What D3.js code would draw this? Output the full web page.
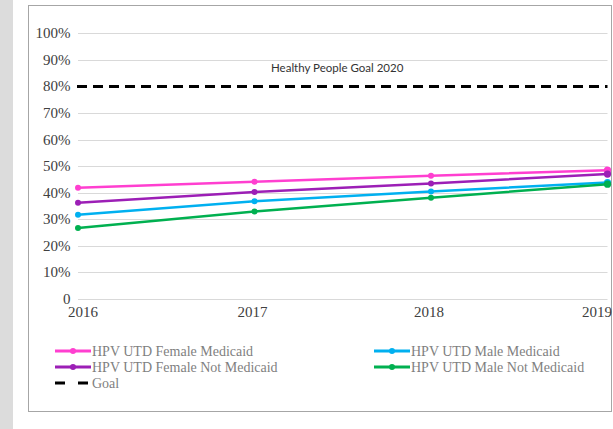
<!doctype html>
<html>
<head>
<meta charset="utf-8">
<title>HPV UTD by Medicaid status</title>
<script src="https://d3js.org/d3.v7.min.js"></script>
<style>
  body { margin: 0; background: #fff; }
  svg { display: block; }
</style>
</head>
<body>
<div id="chart"></div>
<script>
// data
var years = [2016, 2017, 2018, 2019];
var yTicks = [0, 10, 20, 30, 40, 50, 60, 70, 80, 90, 100];
var femaleMedicaid = [41.9, 44.1, 46.4, 48.5];
var femaleNotMedicaid = [36.2, 40.3, 43.5, 47.0];
var maleMedicaid = [31.7, 36.8, 40.5, 43.8];
var maleNotMedicaid = [26.7, 32.9, 38.1, 43.2];
var goal = 80;
var goalLabel = "Healthy People Goal 2020";

var series = [
  { name: "HPV UTD Female Medicaid", values: femaleMedicaid, color: "#ff3fd0" },
  { name: "HPV UTD Female Not Medicaid", values: femaleNotMedicaid, color: "#9c1fb6" },
  { name: "HPV UTD Male Medicaid", values: maleMedicaid, color: "#00b0f0" },
  { name: "HPV UTD Male Not Medicaid", values: maleNotMedicaid, color: "#00b050" }
];

var W = 613, H = 429;
var svg = d3.select("#chart").append("svg")
  .attr("width", W)
  .attr("height", H);

// grey strip on the left, frame of the chart
svg.append("rect").attr("x", 0).attr("y", 0).attr("width", 13).attr("height", H).attr("fill", "#dcdcdc");
svg.append("rect").attr("x", 28.5).attr("y", 5.5).attr("width", 583).attr("height", 406)
  .attr("fill", "#fff").attr("stroke", "#a6a6a6").attr("stroke-width", 1);

var x = d3.scalePoint().domain(years).range([78, 607.5]);
var y = d3.scaleLinear().domain([0, 100]).range([299, 33.3]);

// gridlines
svg.append("g").selectAll("line")
  .data(yTicks.filter(function(d) { return d != goal; }))
  .enter().append("line")
  .attr("x1", x(2016)).attr("x2", x(2019))
  .attr("y1", function(d) { return Math.round(y(d)) + 0.5; })
  .attr("y2", function(d) { return Math.round(y(d)) + 0.5; })
  .attr("stroke", "#d9d9d9").attr("stroke-width", 1);

// y labels
svg.append("g").selectAll("text")
  .data(yTicks)
  .enter().append("text")
  .attr("x", 70.5)
  .attr("y", function(d) { return y(d) + 5; })
  .attr("text-anchor", "end")
  .style("font-family", "'Liberation Serif', 'DejaVu Serif', serif")
  .style("font-size", "15px")
  .attr("fill", "#404040")
  .text(function(d) { return d == 0 ? "0" : d + "%"; });

// x labels (first and last kept inside like the original)
svg.append("g").selectAll("text")
  .data(years)
  .enter().append("text")
  .attr("x", function(d, i) {
    if (i == 0) return x(d) - 10;
    if (i == years.length - 1) return x(d) + 4.5;
    return x(d) - 2;
  })
  .attr("y", 317)
  .attr("text-anchor", function(d, i) {
    return i == 0 ? "start" : (i == years.length - 1 ? "end" : "middle");
  })
  .style("font-family", "'Liberation Serif', 'DejaVu Serif', serif")
  .style("font-size", "15px")
  .attr("fill", "#404040")
  .text(function(d) { return d; });

// goal
svg.append("line")
  .attr("x1", x(2016) - 1).attr("x2", x(2019))
  .attr("y1", y(goal)).attr("y2", y(goal))
  .attr("stroke", "#000").attr("stroke-width", 3)
  .attr("stroke-dasharray", "10,6");

svg.append("text")
  .attr("x", 271).attr("y", 71.5)
  .style("font-family", "Lato, sans-serif")
  .style("font-size", "11.5px")
  .attr("fill", "#333")
  .text(goalLabel);

// series lines + markers
var line = d3.line()
  .x(function(d, i) { return x(years[i]); })
  .y(function(d) { return y(d); });

series.forEach(function(s) {
  svg.append("path")
    .datum(s.values)
    .attr("d", line)
    .attr("fill", "none")
    .attr("stroke", s.color)
    .attr("stroke-width", 2.5);
  svg.append("g").selectAll("circle")
    .data(s.values)
    .enter().append("circle")
    .attr("cx", function(d, i) { return x(years[i]); })
    .attr("cy", function(d) { return y(d); })
    .attr("r", function(d, i) { return i == years.length - 1 ? 3.6 : 3; })
    .attr("fill", s.color);
});

// legend
var legendItems = [
  { name: series[0].name, color: series[0].color, lx: 55, ly: 351 },
  { name: series[1].name, color: series[1].color, lx: 55, ly: 367 },
  { name: series[2].name, color: series[2].color, lx: 374, ly: 351 },
  { name: series[3].name, color: series[3].color, lx: 374, ly: 367 }
];

var legend = svg.append("g").selectAll("g")
  .data(legendItems)
  .enter().append("g")
  .attr("transform", function(d) { return "translate(" + d.lx + "," + d.ly + ")"; });

legend.append("line")
  .attr("x1", 0).attr("x2", 36).attr("y1", 0).attr("y2", 0)
  .attr("stroke", function(d) { return d.color; })
  .attr("stroke-width", 3);
legend.append("circle")
  .attr("cx", 18).attr("cy", 0).attr("r", 3)
  .attr("fill", function(d) { return d.color; });
legend.append("text")
  .attr("x", 37).attr("y", 5)
  .style("font-family", "'Liberation Serif', 'DejaVu Serif', serif")
  .style("font-size", "14px")
  .attr("fill", "#7f7f7f")
  .text(function(d) { return d.name; });

var goalLegend = svg.append("g").attr("transform", "translate(55,383)");
goalLegend.append("line")
  .attr("x1", 0).attr("x2", 36).attr("y1", 0).attr("y2", 0)
  .attr("stroke", "#000").attr("stroke-width", 3)
  .attr("stroke-dasharray", "10,13");
goalLegend.append("text")
  .attr("x", 37).attr("y", 5)
  .style("font-family", "'Liberation Serif', 'DejaVu Serif', serif")
  .style("font-size", "14px")
  .attr("fill", "#7f7f7f")
  .text("Goal");
</script>
</body>
</html>
